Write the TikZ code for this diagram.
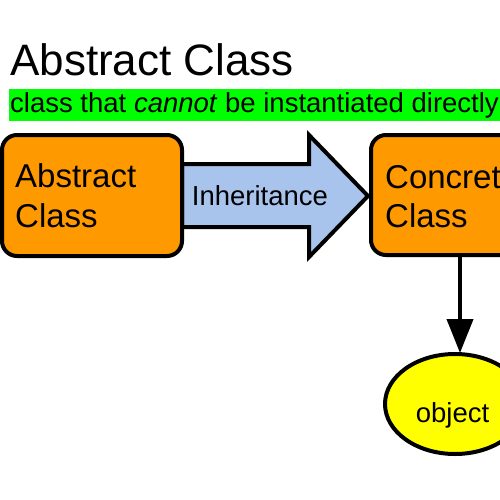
\documentclass[tikz,border=0pt]{standalone}
\usepackage{fontspec}
\setmainfont{Liberation Sans}
\usetikzlibrary{shapes.geometric,arrows.meta}
\definecolor{boxorange}{HTML}{FF9900}
\definecolor{arrowblue}{HTML}{A8C4EC}
\definecolor{hlgreen}{HTML}{00FF00}
\definecolor{objyellow}{HTML}{FFFF00}
\begin{document}
\begin{tikzpicture}[x=1pt,y=-1pt,
  classbox/.style={draw=black,line width=4pt,fill=boxorange,rounded corners=15pt},
  boxtext/.style={anchor=base west,inner sep=0pt,font=\fontsize{33}{40}\selectfont},
  midtext/.style={inner sep=0pt,font=\fontsize{27.5}{33}\selectfont}]
\useasboundingbox (0,0) rectangle (500,500);
\begin{scope}
\clip (0,0) rectangle (500,500);
% title
\node[anchor=base west,inner sep=0pt,font=\fontsize{44}{50}\selectfont] (title) at (10,76) {Abstract Class};
% green highlight
\fill[hlgreen] (9,89) rectangle (505,121);
\node[anchor=base west,inner sep=0pt,font=\fontsize{27.5}{33}\selectfont] (sub) at (10,113) {class that \textit{cannot} be instantiated directly};
% inheritance arrow
\coordinate (tip) at (368,196);
\filldraw[fill=arrowblue,draw=black,line width=4pt,line join=miter]
  (182,164) -- (309,164) -- (309,135) -- (tip) -- (309,257) -- (309,227) -- (182,227) -- cycle;
\node[midtext,anchor=base] (inh) at (260,205) {Inheritance};
% boxes
\draw[classbox] (2,135) rectangle (182,256);
\coordinate (abs) at (92,196);
\node[boxtext] (abs1) at (15,187) {Abstract};
\node[boxtext] (abs2) at (15,227) {Class};
\draw[classbox] (371,135) rectangle (560,255);
\coordinate (conc) at (460,255);
\node[boxtext] (con1) at (385,188) {Concrete};
\node[boxtext] (con2) at (385,227) {Class};
% object
\node[draw=black,line width=4pt,fill=objyellow,ellipse,minimum width=140pt,minimum height=100pt,inner sep=0pt] (obj) at (455,404) {};
\node[midtext,anchor=base] (objt) at (452.5,422) {object};
\coordinate (objtop) at (460,353);
\draw[line width=4pt,-{Triangle[length=34pt,width=26pt]}] (conc) -- (objtop);
\end{scope}
\end{tikzpicture}
\end{document}
